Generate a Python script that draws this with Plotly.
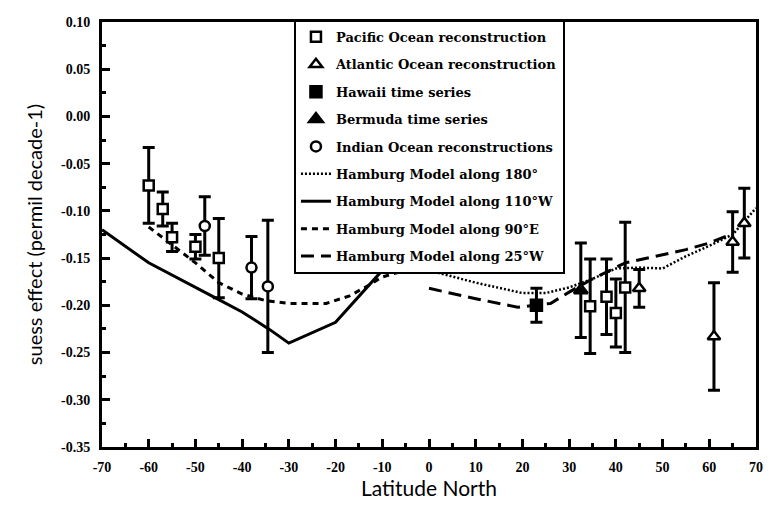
import plotly.graph_objects as go

# ---------------- data ----------------
pac_lat = [-60, -57, -55, -50, -45, 34.5, 38, 40, 42]
pac_val = [-0.073, -0.098, -0.128, -0.138, -0.150, -0.201, -0.191, -0.208, -0.181]
pac_err = [0.040, 0.018, 0.015, 0.013, 0.042, 0.050, 0.040, 0.036, 0.069]

atl_lat = [45, 61, 65, 67.5]
atl_val = [-0.182, -0.233, -0.133, -0.113]
atl_err = [0.020, 0.057, 0.032, 0.037]

haw_lat = [23]
haw_val = [-0.200]
haw_err = [0.018]

ber_lat = [32.5]
ber_val = [-0.184]
ber_err = [0.050]

ind_lat = [-48, -38, -34.5]
ind_val = [-0.116, -0.160, -0.180]
ind_err = [0.031, 0.033, 0.070]

m180_lat = [-3, 0, 10, 20, 25, 30, 35, 40, 45, 50, 55, 60, 65, 70]
m180_val = [-0.158, -0.163, -0.176, -0.187, -0.187, -0.181, -0.172, -0.161, -0.160, -0.161, -0.148, -0.137, -0.125, -0.097]

m110_lat = [-70, -60, -45, -40, -34, -30, -20, -10, -5]
m110_val = [-0.120, -0.155, -0.194, -0.207, -0.226, -0.240, -0.218, -0.163, -0.155]

m90_lat = [-60, -55, -50, -45, -40, -35, -30, -22, -17, -13, -10, -3, 0]
m90_val = [-0.117, -0.136, -0.155, -0.176, -0.188, -0.195, -0.198, -0.198, -0.190, -0.179, -0.170, -0.160, -0.158]

m25_lat = [0, 10, 19, 26, 30, 35, 42, 50, 55, 60, 64]
m25_val = [-0.182, -0.193, -0.202, -0.198, -0.186, -0.172, -0.155, -0.146, -0.141, -0.134, -0.126]

x_ticks = list(range(-70, 71, 10))
x_ticktext = [str(v) for v in x_ticks]
y_ticks = [0.10, 0.05, 0.00, -0.05, -0.10, -0.15, -0.20, -0.25, -0.30, -0.35]
y_ticktext = ["0.10", "0.05", "0.00", "-0.05", "-0.10", "-0.15", "-0.20", "-0.25", "-0.30", "-0.35"]

# ---------------- figure ----------------
BLK = "black"
fig = go.Figure()

def err(vals):
    return dict(type="data", array=vals, visible=True, color=BLK, thickness=3, width=6)

def pts(name, lat, val, e, symbol, fill, size):
    fig.add_trace(go.Scatter(
        x=lat, y=val, mode="markers", name=name, legendgroup=name,
        error_y=err(e),
        marker=dict(symbol=symbol, size=size, color=fill, line=dict(color=BLK, width=2.5)),
    ))

def line(name, lat, val, dash, width):
    fig.add_trace(go.Scatter(
        x=lat, y=val, mode="lines", name=name, legendgroup=name,
        line=dict(color=BLK, dash=dash, width=width),
    ))

# lines first so markers sit on top
line("Hamburg Model along 180°", m180_lat, m180_val, "2px,2px", 2.5)
line("Hamburg Model along 110°W", m110_lat, m110_val, "solid", 3)
line("Hamburg Model along 90°E", m90_lat, m90_val, "6px,5px", 3)
line("Hamburg Model along 25°W", m25_lat, m25_val, "13px,7px", 3)

pts("Pacific Ocean reconstruction", pac_lat, pac_val, pac_err, "square", "white", 10)
pts("Atlantic Ocean reconstruction", atl_lat, atl_val, atl_err, "triangle-up", "white", 11)
pts("Hawaii time series", haw_lat, haw_val, haw_err, "square", BLK, 11)
pts("Bermuda time series", ber_lat, ber_val, ber_err, "triangle-up", BLK, 12)
pts("Indian Ocean reconstructions", ind_lat, ind_val, ind_err, "circle", "white", 10)

# legend order as in the reference
order = ["Pacific Ocean reconstruction", "Atlantic Ocean reconstruction", "Hawaii time series",
         "Bermuda time series", "Indian Ocean reconstructions", "Hamburg Model along 180°",
         "Hamburg Model along 110°W", "Hamburg Model along 90°E", "Hamburg Model along 25°W"]
for tr in fig.data:
    tr.legendrank = order.index(tr.name) + 1

tick_font = dict(family="Liberation Serif", size=14, color=BLK, weight="bold")

fig.update_layout(
    width=773, height=508,
    margin=dict(l=102, r=10, t=22, b=61),
    paper_bgcolor="white", plot_bgcolor="white",
    showlegend=True,
    legend=dict(
        x=0.2935, y=1.005, xanchor="left", yanchor="top",
        bgcolor="white", bordercolor=BLK, borderwidth=2,
        font=dict(family="DejaVu Serif", size=13, color=BLK, weight="bold"),
        traceorder="grouped", tracegroupgap=7.5, itemwidth=30,
    ),
)
fig.update_xaxes(
    range=[-70, 70], tickmode="array", tickvals=x_ticks, ticktext=x_ticktext,
    ticks="inside", ticklen=8, tickwidth=2.5, tickcolor=BLK,
    minor=dict(ticks="inside", ticklen=4, tickwidth=2.5, tickcolor=BLK, dtick=5, tick0=0),
    showline=True, linewidth=3, linecolor=BLK, mirror=True,
    showgrid=False, zeroline=False,
    tickfont=tick_font, ticklabelstandoff=5,
    title=dict(text="Latitude North", font=dict(family="Lato", size=21, color=BLK), standoff=8),
)
fig.update_yaxes(
    range=[-0.35, 0.10], tickmode="array", tickvals=y_ticks, ticktext=y_ticktext,
    ticks="inside", ticklen=8, tickwidth=2.5, tickcolor=BLK,
    minor=dict(ticks="inside", ticklen=4, tickwidth=2.5, tickcolor=BLK, dtick=0.025, tick0=0),
    showline=True, linewidth=3, linecolor=BLK, mirror=True,
    showgrid=False, zeroline=False,
    tickfont=tick_font, ticklabelstandoff=6,
    title=dict(text="suess effect (permil decade-1)", font=dict(family="Lato", size=20, color=BLK), standoff=14),
)

fig.write_html("out.html")
